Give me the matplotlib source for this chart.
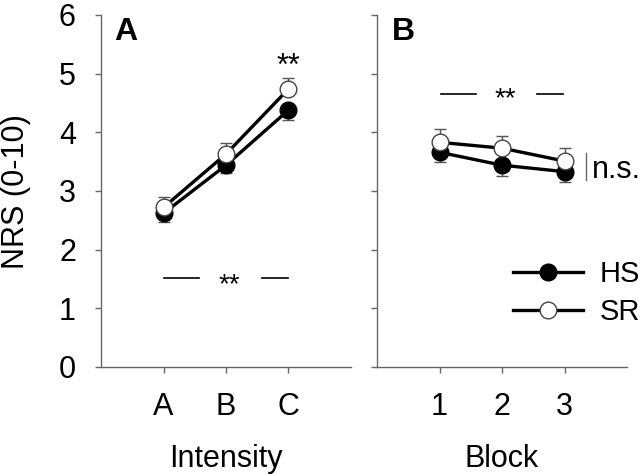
import matplotlib
matplotlib.use("Agg")
import matplotlib.pyplot as plt

plt.rcParams['font.family'] = ['Liberation Sans', 'DejaVu Sans']

# ---- data ----
intensity_labels = ['A', 'B', 'C']
block_labels = ['1', '2', '3']
x_pos = [1, 2, 3]

hs_intensity = [2.62, 3.44, 4.38]
hs_intensity_se = [0.15, 0.14, 0.17]
sr_intensity = [2.72, 3.63, 4.74]
sr_intensity_se = [0.17, 0.19, 0.18]

hs_block = [3.66, 3.44, 3.33]
hs_block_se = [0.16, 0.19, 0.17]
sr_block = [3.83, 3.73, 3.51]
sr_block_se = [0.22, 0.20, 0.22]

yticks = [0, 1, 2, 3, 4, 5, 6]

SPINE = '#666666'
FS = 22

fig = plt.figure(figsize=(6.44, 4.74), dpi=100)
axA = fig.add_axes([101/644, 107/474, 250/644, 352/474])
axB = fig.add_axes([377/644, 107/474, 250/644, 352/474])


def draw(ax, hs, hs_se, sr, sr_se, labels, xlabel):
    zero = [0, 0, 0]
    ax.errorbar(x_pos, hs, yerr=[hs_se, zero], fmt='none', ecolor='#555555',
                elinewidth=1, capsize=4, capthick=1, zorder=2)
    ax.plot(x_pos, hs, '-o', color='black', lw=2.4, markersize=12,
            markerfacecolor='black', markeredgecolor='black', zorder=3, label='HS')
    ax.errorbar(x_pos, sr, yerr=[zero, sr_se], fmt='none', ecolor='#555555',
                elinewidth=1, capsize=4, capthick=1, zorder=4)
    ax.plot(x_pos, sr, '-o', color='black', lw=2.4, markersize=12,
            markerfacecolor='white', markeredgecolor='#444444', markeredgewidth=1,
            zorder=5, label='SR')
    ax.set_xlim(0, 4)
    ax.set_ylim(0, 6)
    ax.set_xticks(x_pos)
    ax.set_xticklabels(labels)
    ax.set_yticks(yticks)
    for s in ['top', 'right']:
        ax.spines[s].set_visible(False)
    for s in ['left', 'bottom']:
        ax.spines[s].set_color(SPINE)
        ax.spines[s].set_linewidth(1)
    ax.tick_params(axis='both', colors=SPINE, labelcolor='black', length=4,
                   width=1, labelsize=FS, pad=14)
    ax.set_xlabel(xlabel, fontsize=FS, labelpad=16)


draw(axA, hs_intensity, hs_intensity_se, sr_intensity, sr_intensity_se,
     intensity_labels, 'Intensity')
draw(axB, hs_block, hs_block_se, sr_block, sr_block_se, block_labels, 'Block')

fig.text(16/644, 1 - 192/474, 'NRS (0-10)', fontsize=FS, rotation=90,
         ha='center', va='center')
axB.set_yticklabels([])

# panel letters
axA.text(0.052, 0.995, 'A', transform=axA.transAxes, fontsize=23,
         fontweight='bold', va='top', ha='left')
axB.text(0.06, 0.995, 'B', transform=axB.transAxes, fontsize=23,
         fontweight='bold', va='top', ha='left')

# significance annotations
axA.text(3, 5.11, '**', fontsize=22, ha='center', va='center')
axA.plot([1.0, 1.57], [1.52, 1.52], color='black', lw=1.2)
axA.plot([2.58, 2.99], [1.52, 1.52], color='black', lw=1.2)
axA.text(2.06, 1.40, '**', fontsize=20, ha='center', va='center')

axB.plot([1.03, 1.58], [4.65, 4.65], color='black', lw=1.2)
axB.plot([2.56, 2.98], [4.65, 4.65], color='black', lw=1.2)
axB.text(2.05, 4.56, '**', fontsize=20, ha='center', va='center')
axB.plot([3.35, 3.35], [3.18, 3.64], color='#666666', lw=1)
axB.text(3.44, 3.36, 'n.s.', fontsize=22, ha='left', va='center')

leg = axB.legend(loc='center left', bbox_to_anchor=(0.44, 0.21), frameon=False,
                 fontsize=21, handlelength=2.4, handletextpad=0.55,
                 labelspacing=0.35, borderpad=0.4)

fig.savefig('out.png', dpi=100)
